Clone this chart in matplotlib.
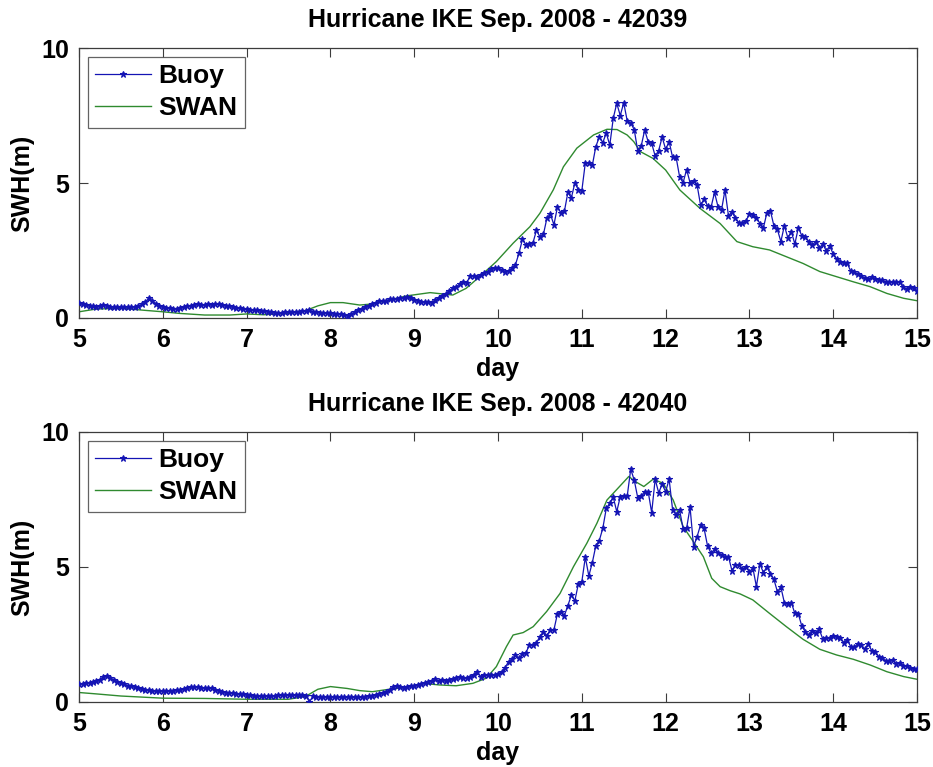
import matplotlib
matplotlib.use("Agg")
import matplotlib.pyplot as plt
import numpy as np

# ------------------------------------------------------------
# Hourly significant wave height (m) at the buoys, day 5.0 - 15.0
# ------------------------------------------------------------

START_DAY = 5.0

buoy_42039 = [
    # day 5
    0.54, 0.51, 0.48, 0.45, 0.43, 0.42, 0.44, 0.48, 0.45, 0.42, 0.41, 0.40,
    0.40, 0.41, 0.41, 0.42, 0.42, 0.44, 0.50, 0.60, 0.73, 0.63, 0.53, 0.46,
    # day 6
    0.41, 0.38, 0.36, 0.35, 0.35, 0.37, 0.40, 0.43, 0.46, 0.49, 0.50, 0.48,
    0.49, 0.50, 0.49, 0.50, 0.51, 0.49, 0.46, 0.43, 0.41, 0.38, 0.36, 0.34,
    # day 7
    0.32, 0.31, 0.29, 0.28, 0.27, 0.26, 0.24, 0.22, 0.20, 0.18, 0.19, 0.21,
    0.22, 0.22, 0.23, 0.24, 0.25, 0.27, 0.28, 0.24, 0.21, 0.20, 0.19, 0.18,
    # day 8
    0.17, 0.16, 0.16, 0.15, 0.11, 0.08, 0.14, 0.22, 0.28, 0.33, 0.39, 0.44,
    0.50, 0.56, 0.62, 0.64, 0.63, 0.69, 0.71, 0.72, 0.74, 0.75, 0.77, 0.73,
    # day 9
    0.68, 0.63, 0.60, 0.60, 0.59, 0.56, 0.66, 0.74, 0.82, 0.90, 1.00, 1.10,
    1.15, 1.25, 1.35, 1.30, 1.55, 1.57, 1.52, 1.60, 1.65, 1.72, 1.82, 1.85,
    # day 10
    1.87, 1.78, 1.70, 1.73, 1.84, 1.98, 2.40, 2.92, 2.70, 2.75, 2.78, 3.25,
    3.00, 3.10, 3.70, 3.85, 3.45, 4.10, 3.90, 3.95, 4.65, 4.45, 5.00, 4.75,
    # day 11
    4.72, 5.75, 5.75, 5.65, 6.35, 6.70, 6.50, 6.85, 6.40, 7.40, 7.95, 7.50,
    7.97, 7.30, 7.22, 6.98, 6.20, 6.37, 6.96, 6.53, 6.47, 6.00, 6.20, 6.70,
    # day 12
    6.25, 6.53, 5.95, 5.95, 5.23, 5.01, 5.50, 5.01, 5.08, 4.93, 4.18, 4.40,
    4.16, 4.10, 4.65, 4.12, 4.00, 4.74, 3.78, 3.94, 3.69, 3.53, 3.53, 3.60,
    # day 13
    3.85, 3.81, 3.72, 3.50, 3.34, 3.90, 3.97, 3.42, 3.28, 2.83, 3.42, 2.97,
    3.20, 2.74, 3.34, 3.05, 3.01, 2.83, 2.70, 2.83, 2.58, 2.74, 2.49, 2.66,
    # day 14
    2.37, 2.17, 2.08, 2.05, 2.02, 1.74, 1.69, 1.62, 1.56, 1.47, 1.43, 1.51,
    1.45, 1.41, 1.41, 1.32, 1.32, 1.32, 1.32, 1.35, 1.13, 1.07, 1.14, 1.10,
    # day 15
    1.00,
]

buoy_42040 = [
    # day 5
    0.67, 0.68, 0.69, 0.72, 0.75, 0.77, 0.80, 0.92, 0.95, 0.88, 0.80, 0.75,
    0.70, 0.65, 0.60, 0.58, 0.55, 0.50, 0.47, 0.45, 0.44, 0.42, 0.42, 0.41,
    # day 6
    0.41, 0.41, 0.41, 0.42, 0.43, 0.45, 0.48, 0.51, 0.55, 0.57, 0.55, 0.53,
    0.52, 0.50, 0.50, 0.45, 0.42, 0.38, 0.35, 0.33, 0.32, 0.30, 0.29, 0.28,
    # day 7
    0.26, 0.24, 0.22, 0.22, 0.22, 0.22, 0.23, 0.23, 0.23, 0.24, 0.24, 0.25,
    0.26, 0.26, 0.25, 0.25, 0.24, 0.22, 0.01, 0.21, 0.20, 0.20, 0.19, 0.20,
    # day 8
    0.19, 0.19, 0.18, 0.17, 0.17, 0.17, 0.17, 0.17, 0.17, 0.18, 0.20, 0.21,
    0.23, 0.26, 0.29, 0.34, 0.38, 0.45, 0.55, 0.59, 0.55, 0.53, 0.55, 0.58,
    # day 9
    0.59, 0.63, 0.67, 0.70, 0.74, 0.79, 0.84, 0.78, 0.80, 0.79, 0.80, 0.84,
    0.90, 0.91, 0.90, 0.88, 0.94, 1.00, 1.12, 0.94, 1.00, 0.98, 0.98, 1.00,
    # day 10
    1.05, 1.10, 1.27, 1.49, 1.58, 1.74, 1.62, 1.77, 1.83, 2.11, 2.11, 2.20,
    2.42, 2.60, 2.46, 2.67, 2.67, 3.26, 3.35, 3.20, 3.57, 3.96, 3.75, 4.37,
    # day 11
    4.46, 5.36, 4.67, 5.16, 5.78, 5.98, 6.43, 7.17, 7.36, 7.58, 7.05, 7.60,
    7.63, 7.63, 8.62, 8.22, 7.57, 7.63, 7.79, 7.79, 7.01, 8.25, 7.75, 8.06,
    # day 12
    7.79, 8.25, 7.11, 6.93, 7.11, 6.41, 6.43, 7.21, 5.75, 6.12, 6.56, 6.43,
    5.78, 5.51, 5.65, 5.53, 5.44, 5.36, 5.38, 4.86, 5.07, 5.07, 4.91, 5.01,
    # day 13
    4.83, 4.95, 4.27, 5.11, 4.79, 5.01, 4.74, 4.54, 4.09, 4.25, 3.68, 3.63,
    3.68, 3.28, 3.26, 2.81, 2.60, 2.48, 2.64, 2.57, 2.69, 2.33, 2.36, 2.38,
    # day 14
    2.46, 2.40, 2.38, 2.20, 2.30, 2.05, 2.02, 2.15, 2.11, 1.95, 2.15, 1.90,
    1.86, 1.68, 1.62, 1.53, 1.53, 1.56, 1.41, 1.46, 1.35, 1.33, 1.25, 1.21,
    # day 15
    1.21,
]

# ------------------------------------------------------------
# SWAN model output at the buoy locations
# ------------------------------------------------------------

swan_day_42039 = [
    5.00, 5.20, 5.50, 5.80, 6.00, 6.20, 6.50, 6.80, 7.00, 7.20, 7.50, 7.70,
    7.85, 8.00, 8.15, 8.35, 8.50, 8.71, 8.91, 9.19, 9.46, 9.62, 9.78, 9.98,
    10.18, 10.38, 10.50, 10.66, 10.78, 10.94, 11.14, 11.30, 11.42, 11.54,
    11.62, 11.70, 11.85, 12.00, 12.17, 12.41, 12.65, 12.85, 13.04, 13.24,
    13.44, 13.64, 13.84, 14.04, 14.24, 14.44, 14.64, 14.84, 15.00,
]
swan_hs_42039 = [
    0.23, 0.33, 0.36, 0.28, 0.23, 0.17, 0.11, 0.11, 0.15, 0.12, 0.17, 0.27,
    0.45, 0.57, 0.57, 0.48, 0.52, 0.67, 0.82, 0.94, 0.85, 1.10, 1.53, 2.09,
    2.77, 3.38, 3.88, 4.75, 5.60, 6.29, 6.78, 6.99, 6.98, 6.78,
    6.53, 6.16, 5.91, 5.48, 4.74, 4.06, 3.50, 2.83, 2.64, 2.52,
    2.27, 2.02, 1.72, 1.53, 1.34, 1.16, 0.91, 0.73, 0.64,
]

swan_day_42040 = [
    5.00, 5.20, 5.50, 6.00, 6.50, 7.00, 7.50, 7.70, 7.85, 8.00, 8.20, 8.35,
    8.50, 8.70, 8.90, 9.10, 9.30, 9.50, 9.70, 9.86, 9.98, 10.10, 10.18,
    10.30, 10.42, 10.58, 10.74, 10.90, 11.06, 11.18, 11.30, 11.42, 11.56,
    11.64, 11.74, 11.85, 11.97, 12.09, 12.21, 12.33, 12.45, 12.55, 12.65,
    12.77, 12.89, 13.04, 13.24, 13.44, 13.64, 13.84, 14.04, 14.24, 14.44,
    14.64, 14.84, 15.00,
]
swan_hs_42040 = [
    0.35, 0.30, 0.22, 0.14, 0.13, 0.10, 0.10, 0.20, 0.47, 0.57, 0.50, 0.42,
    0.38, 0.47, 0.54, 0.69, 0.63, 0.60, 0.69, 0.88, 1.31, 2.05, 2.48,
    2.57, 2.79, 3.35, 4.02, 5.01, 5.88, 6.62, 7.48, 7.88, 8.35,
    8.16, 7.98, 8.25, 8.10, 7.48, 6.49, 5.94, 5.38, 4.58, 4.27,
    4.12, 4.00, 3.78, 3.28, 2.79, 2.32, 1.95, 1.74, 1.58, 1.37,
    1.12, 0.94, 0.84,
]

STATIONS = ["42039", "42040"]
X_TICKS = list(range(5, 16))
Y_TICKS = [0, 5, 10]

# ------------------------------------------------------------
# Style
# ------------------------------------------------------------

plt.rcParams["font.family"] = ["Liberation Sans", "DejaVu Sans"]
plt.rcParams["font.weight"] = "bold"
plt.rcParams["axes.titleweight"] = "bold"
plt.rcParams["axes.labelweight"] = "bold"

BUOY_COLOR = "#1414b4"
SWAN_COLOR = "#2f8a2f"
FRAME_COLOR = "#3c3c3c"

fig = plt.figure(figsize=(9.33, 7.67), dpi=100)

panels = [
    (fig.add_axes([0.0847, 0.5854, 0.8982, 0.3520]), buoy_42039,
     swan_day_42039, swan_hs_42039, STATIONS[0]),
    (fig.add_axes([0.0847, 0.0848, 0.8982, 0.3520]), buoy_42040,
     swan_day_42040, swan_hs_42040, STATIONS[1]),
]

for ax, buoy, swan_day, swan_hs, station in panels:
    buoy_day = START_DAY + np.arange(len(buoy)) / 24.0

    ax.plot(buoy_day, buoy, color=BUOY_COLOR, linewidth=0.9,
            marker="*", markersize=4.5, markeredgewidth=0.8,
            label="Buoy", zorder=3)
    ax.plot(swan_day, swan_hs, color=SWAN_COLOR, linewidth=1.0,
            label="SWAN", zorder=2)

    ax.set_xlim(5, 15)
    ax.set_ylim(0, 10)
    ax.set_xticks(X_TICKS)
    ax.set_yticks(Y_TICKS)

    ax.tick_params(direction="in", length=6.5, width=0.8, color=FRAME_COLOR,
                   top=True, right=True, labelsize=18, pad=7)
    for spine in ax.spines.values():
        spine.set_color(FRAME_COLOR)
        spine.set_linewidth(0.9)

    ax.set_xlabel("day", fontsize=18, labelpad=4)
    ax.set_ylabel("SWH(m)", fontsize=18, labelpad=5)
    ax.set_title(f"Hurricane IKE Sep. 2008 - {station}", fontsize=18, pad=15)

    leg = ax.legend(loc="upper left", bbox_to_anchor=(0.0107, 0.967),
                    borderaxespad=0, fontsize=19, frameon=True, fancybox=False,
                    handlelength=2.1, handletextpad=0.3, borderpad=0.28,
                    labelspacing=0.3)
    leg.get_frame().set_edgecolor(FRAME_COLOR)
    leg.get_frame().set_linewidth(0.9)

fig.savefig("out.png", dpi=100)
plt.close(fig)
